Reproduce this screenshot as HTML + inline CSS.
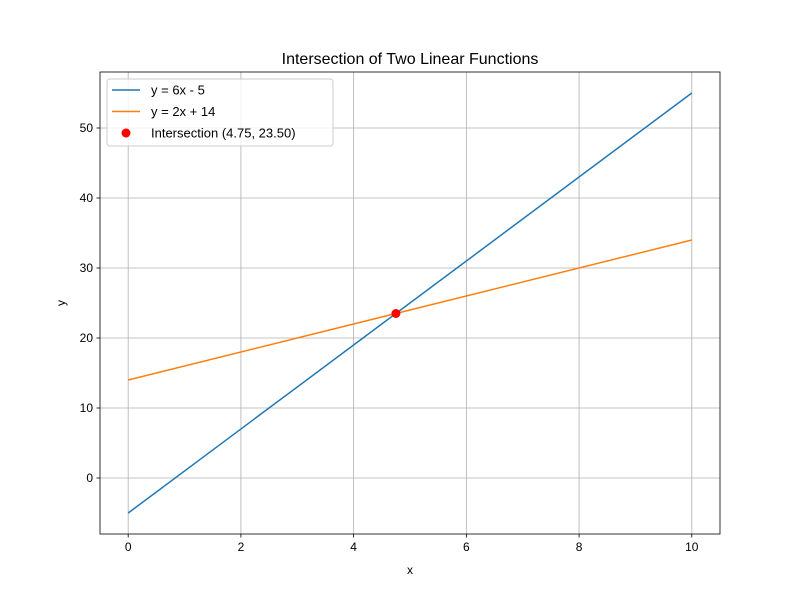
<!DOCTYPE html>
<html><head><meta charset="utf-8"><style>
body{margin:0;background:#fff;}
svg{font-family:"Liberation Sans","DejaVu Sans",sans-serif;}
</style></head><body>
<svg id="chart" width="800" height="600"></svg>
<script>
const xData=[0,10];
const series1=[-5,55];
const series2=[14,34];
const intersection=[4.75,23.5];
const xTicks=[0,2,4,6,8,10];
const yTicks=[0,10,20,30,40,50];
const labels=["y = 6x - 5","y = 2x + 14","Intersection (4.75, 23.50)"];

const L=100,R=720,T=72,B=534;
const xMin=-0.5,xMax=10.5,yMin=-8,yMax=58;
const sx=v=>L+(v-xMin)/(xMax-xMin)*(R-L);
const sy=v=>B-(v-yMin)/(yMax-yMin)*(B-T);
const svg=document.getElementById('chart');
const NS='http://www.w3.org/2000/svg';
function mk(tag,attrs,parent){const e=document.createElementNS(NS,tag);for(const k in attrs)e.setAttribute(k,attrs[k]);(parent||svg).appendChild(e);return e;}

const grid=mk('g',{});


xTicks.forEach(t=>{
  mk('line',{x1:sx(t),x2:sx(t),y1:T,y2:B,stroke:'#b0b0b0','stroke-width':0.8},grid);
  mk('line',{x1:sx(t),x2:sx(t),y1:B,y2:B+3.5,stroke:'#000','stroke-width':0.8});
  const tx=mk('text',{x:sx(t),y:B+17,'text-anchor':'middle','font-size':12});
  tx.textContent=t;
  
  
});
yTicks.forEach(t=>{
  mk('line',{x1:L,x2:R,y1:sy(t),y2:sy(t),stroke:'#b0b0b0','stroke-width':0.8},grid);
  mk('line',{x1:L-3.5,x2:L,y1:sy(t),y2:sy(t),stroke:'#000','stroke-width':0.8});
  const tx=mk('text',{x:L-7,y:sy(t)+4,'text-anchor':'end','font-size':12});
  tx.textContent=t;
  
  
});

const l1=mk('line',{x1:sx(xData[0]),y1:sy(series1[0]),x2:sx(xData[1]),y2:sy(series1[1]),stroke:'#1f77b4','stroke-width':1.5});


const l2=mk('line',{x1:sx(xData[0]),y1:sy(series2[0]),x2:sx(xData[1]),y2:sy(series2[1]),stroke:'#ff7f0e','stroke-width':1.5});


const pt=mk('circle',{cx:sx(intersection[0]),cy:sy(intersection[1]),r:4.5,fill:'red'});



const frame=mk('rect',{x:L,y:T,width:R-L,height:B-T,fill:'none',stroke:'#000','stroke-width':0.8});



const title=mk('text',{x:(L+R)/2,y:64,'text-anchor':'middle','font-size':16});
title.textContent='Intersection of Two Linear Functions';


const xl=mk('text',{x:(L+R)/2,y:574,'text-anchor':'middle','font-size':12});
xl.textContent='x';


const yl=mk('text',{x:65,y:303,'text-anchor':'middle','font-size':12,transform:'rotate(-90 65 303)'});
yl.textContent='y';



const lg=mk('g',{});


mk('rect',{x:107,y:79,width:226,height:67,rx:3,fill:'#fff','fill-opacity':0.8,stroke:'#ccc'},lg);
const colors=['#1f77b4','#ff7f0e','red'];
labels.forEach((s,i)=>{
  const y=90+i*21.5;
  if(i<2) mk('line',{x1:112,x2:140,y1:y,y2:y,stroke:colors[i],'stroke-width':1.5},lg);
  else mk('circle',{cx:126,cy:y,r:4.5,fill:'red'},lg);
  const t=mk('text',{x:151,y:y+4.5,'font-size':13},lg);
  t.textContent=s;
  
  
});
</script>
</body></html>
